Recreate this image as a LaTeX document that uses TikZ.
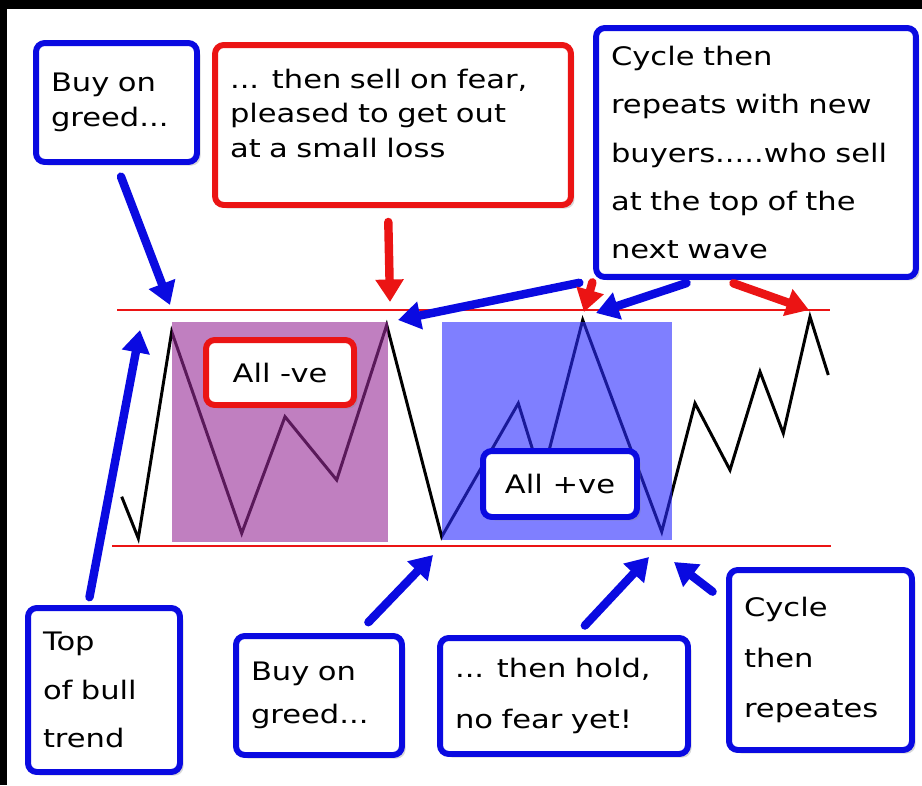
\documentclass[tikz,border=0pt]{standalone}
\usepackage{fontspec}
\setmainfont{DejaVu Sans}[FakeStretch=1.2]
\usetikzlibrary{arrows.meta,positioning,shadows}
\definecolor{nblue}{RGB}{10,10,225}
\definecolor{nred}{RGB}{235,20,20}
\definecolor{negfill}{RGB}{150,43,150}
\definecolor{posfill}{RGB}{43,43,255}

\begin{document}
\begin{tikzpicture}[x=0.02cm,y=-0.02cm,
    note/.style={fill=white,line width=3.4pt,rounded corners=5pt,inner xsep=0.3cm,inner ysep=0pt,align=left,
        drop shadow={shadow xshift=2pt,shadow yshift=-2pt,opacity=.3}},
    bluenote/.style={note,draw=nblue},
    rednote/.style={note,draw=nred},
    lead/.style={font=\fontsize{14.5pt}{#1}\selectfont},
    bluearrow/.style={draw=nblue,line width=4.8pt,line cap=round,-{Triangle[length=0.45cm,width=0.54cm]}},
    redarrow/.style={bluearrow,draw=nred},
    level/.style={nred,line width=1.5pt},
    price/.style={line width=1.7pt,line join=miter}]
\useasboundingbox (0,0) rectangle (922,785);
\fill[black] (0,0) rectangle (922,785);
\fill[white] (7,9) rectangle (922,785);

\draw[price] (121.7,496.7) -- (138.3,538.3) -- (171.7,331.7) -- (241.7,533.3) -- (285,416.7) -- (336.7,480)
  -- (386.7,325) -- (441.7,536.7) -- (518.3,403.3) -- (541.7,479) -- (582.7,320) -- (661.7,531.7)
  -- (695,403.3) -- (730,470) -- (760,371.7) -- (783.3,433.3) -- (810,316.7) -- (828.3,375);
\fill[negfill,opacity=.6] (171.7,321.7) rectangle (388.3,541.7);
\fill[posfill,opacity=.6] (441.7,321.7) rectangle (671.7,540);
\draw[level] (117,310) -- (830,310);
\draw[level] (112,546) -- (831,546);

\coordinate (t1) at (170,305);
\coordinate (t2) at (390,302);
\coordinate (t3) at (398,320);
\coordinate (t4) at (584,312);
\coordinate (t5) at (596,313);
\coordinate (t6) at (809,310);
\coordinate (t7) at (140,330);
\coordinate (t8) at (433,555);
\coordinate (t9) at (649,557);
\coordinate (t10) at (674,562);

\node[bluenote,lead=19.9pt,text width=2.62cm,minimum height=2.38cm] (greed) at (116.5,102.5) {Buy on\\greed...};
\node[rednote,lead=19.6pt,text width=6.52cm,text depth=52.8pt,minimum height=3.2cm] (sell) at (393,125) {... then sell on fear,\\pleased to get out\\at a small loss};
\node[bluenote,lead=27.6pt,text width=5.8cm,minimum height=4.98cm] (cycle) at (756,152.5) {Cycle then\\repeats with new\\buyers.....who sell\\at the top of the\\next wave};
\node[rednote,lead=19.9pt,align=center,inner xsep=0pt,minimum width=2.96cm,minimum height=1.3cm] (neg) at (280,372.5) {All -ve};
\node[bluenote,lead=19.9pt,align=center,inner xsep=0pt,minimum width=3.08cm,minimum height=1.32cm] (pos) at (560,484) {All +ve};
\node[bluenote,lead=27.6pt,text width=2.44cm,minimum height=3.28cm] (bull) at (104,690) {Top\\of bull\\trend};
\node[bluenote,lead=24.5pt,text width=2.72cm,minimum height=2.38cm] (buy) at (319,695.5) {Buy on\\greed...};
\node[bluenote,lead=29pt,text width=4.36cm,minimum height=2.32cm] (hold) at (564,696) {... then hold,\\no fear yet!};
\node[bluenote,lead=28.5pt,text width=3.06cm,minimum height=3.6cm] (again) at (820.5,660) {Cycle\\then\\repeates};

\draw[bluearrow,shorten <=0.25cm] (greed.south) -- (t1);
\draw[redarrow,shorten <=0.28cm] ([xshift=-0.1cm]sell.south) -- (t2);
\draw[bluearrow,shorten <=0.28cm] (cycle.south west) -- (t3);
\draw[redarrow,shorten <=0.05cm] (cycle.south west) -- (t4);
\draw[bluearrow,shorten <=0.2cm] ([xshift=-1.2cm]cycle.south) -- (t5);
\draw[redarrow,shorten <=0.2cm] ([xshift=-0.64cm]cycle.south) -- (t6);
\draw[bluearrow,shorten <=0.16cm] ([xshift=-0.32cm]bull.north) -- (t7);
\draw[bluearrow,shorten <=0.3cm] ([xshift=0.78cm]buy.north) -- (t8);
\draw[bluearrow,shorten <=0.26cm] ([xshift=0.24cm]hold.north) -- (t9);
\draw[bluearrow,shorten <=0.34cm] ([yshift=-0.7cm]again.north west) -- (t10);
\end{tikzpicture}
\end{document}
